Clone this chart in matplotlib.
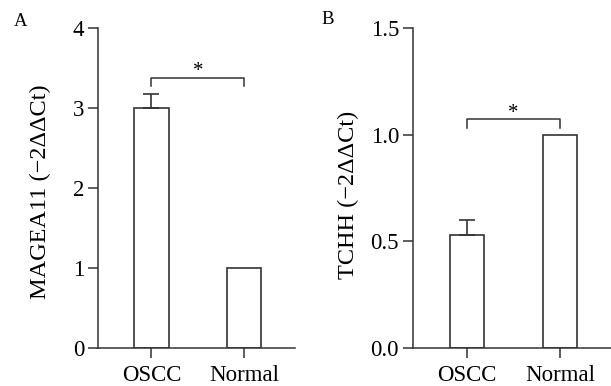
import matplotlib
matplotlib.use("Agg")
import matplotlib.pyplot as plt

categories = ["OSCC", "Normal"]
magea11_values = [3.0, 1.0]
magea11_err = [0.18, 0.0]
tchh_values = [0.53, 1.0]
tchh_err = [0.068, 0.0]

plt.rcParams['font.family'] = ['Liberation Serif', 'DejaVu Serif']

fig = plt.figure(figsize=(6.11, 3.86), dpi=100)
W, H = 611, 386
EC = "#333333"

def make_axes(left_px, right_px, top_px, bottom_px):
    return fig.add_axes([left_px / W, (H - bottom_px) / H,
                         (right_px - left_px) / W, (bottom_px - top_px) / H])

def style(ax, ymax, yticks, yticklabels, xlim):
    for s in ["top", "right"]:
        ax.spines[s].set_visible(False)
    for s in ["left", "bottom"]:
        ax.spines[s].set_linewidth(1.1)
        ax.spines[s].set_color(EC)
    ax.set_ylim(0, ymax)
    ax.set_xlim(*xlim)
    ax.set_yticks(yticks)
    ax.set_yticklabels(yticklabels)
    ax.set_xticks(range(len(categories)))
    ax.set_xticklabels(categories)
    ax.tick_params(axis="y", direction="out", length=7, width=1.1,
                   labelsize=16.5, color=EC, pad=3)
    ax.tick_params(axis="x", direction="out", length=7, width=1.1,
                   labelsize=16.5, color=EC, pad=5)

def draw_bars(ax, values, errs):
    x = list(range(len(categories)))
    ax.bar(x, values, width=0.37, facecolor="white", edgecolor=EC, lw=1.2)
    for xi, v, e in zip(x, values, errs):
        if e > 0:
            ax.errorbar([xi], [v], yerr=[[0], [e]], fmt="none", ecolor=EC,
                        elinewidth=1.2, capsize=6, capthick=1.2)

def bracket(ax, x0, x1, y, drop, star_y):
    ax.plot([x0, x0, x1, x1], [y - drop, y, y, y - drop], color=EC, lw=1.1,
            clip_on=False)
    ax.text((x0 + x1) / 2, star_y, "*", ha="center", va="center", fontsize=15)

def set_ylabel(ax, text, xpos, ypos):
    ax.set_ylabel(text, fontsize=17.5)
    ax.yaxis.set_label_coords(xpos, ypos)
    ax.yaxis.label.set_verticalalignment("center")

# Panel A
axA = make_axes(98, 295, 28, 348)
draw_bars(axA, magea11_values, magea11_err)
style(axA, 4, [0, 1, 2, 3, 4], ["0", "1", "2", "3", "4"], (-0.578, 1.551))
set_ylabel(axA, "MAGEA11 (−2ΔΔCt)", -0.29, 0.49)
bracket(axA, 0, 1, 3.38, 0.11, 3.46)
fig.text(21 / W, 1 - 22 / H, "A", fontsize=13.5, ha="center", va="center")

# Panel B
axB = make_axes(413, 611, 28, 348)
draw_bars(axB, tchh_values, tchh_err)
style(axB, 1.5, [0.0, 0.5, 1.0, 1.5], ["0.0", "0.5", "1.0", "1.5"], (-0.577, 1.548))
set_ylabel(axB, "TCHH (−2ΔΔCt)", -0.328, 0.48)
bracket(axB, 0, 1, 1.073, 0.043, 1.10)
fig.text(328 / W, 1 - 20 / H, "B", fontsize=13.5, ha="center", va="center")

fig.savefig("out.png", dpi=100)
